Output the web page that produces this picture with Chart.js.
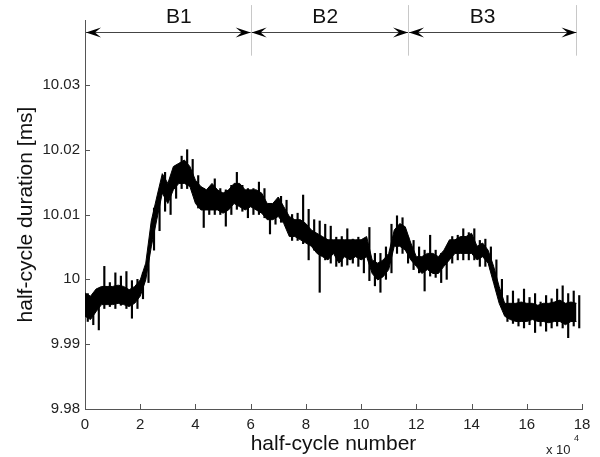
<!DOCTYPE html>
<html>
<head>
<meta charset="utf-8">
<script src="https://cdn.jsdelivr.net/npm/chart.js@4.4.0/dist/chart.umd.min.js"></script>
<style>
  body { margin: 0; background: #fff; }
  #wrap { width: 600px; height: 457px; }
</style>
</head>
<body>
<div id="wrap"><canvas id="myChart" width="600" height="457"></canvas></div>
<script>
// half-cycle number (x 10^4), one bin every 0.2
const binStart = [0,0.2,0.4,0.6,0.8,1,1.2,1.4,1.6,1.8,2,2.2,2.4,2.6,2.8,3,3.2,3.4,3.6,3.8,
  4,4.2,4.4,4.6,4.8,5,5.2,5.4,5.6,5.8,6,6.2,6.4,6.6,6.8,7,7.2,7.4,7.6,7.8,
  8,8.2,8.4,8.6,8.8,9,9.2,9.4,9.6,9.8,10,10.2,10.4,10.6,10.8,11,11.2,11.4,11.6,11.8,
  12,12.2,12.4,12.6,12.8,13,13.2,13.4,13.6,13.8,14,14.2,14.4,14.6,14.8,15,15.2,15.4,15.6,15.8,
  16,16.2,16.4,16.6,16.8,17,17.2,17.4,17.6,17.8];

// extreme spikes of the trace in each bin [ms]
const highVals = [9.9978,9.9975,9.9985,10.0020,9.9995,10.0010,10.0005,10.0012,9.9998,10.0000,
  10.0010,10.0040,10.0110,10.0135,10.0165,10.0145,10.0175,10.0190,10.0200,10.0185,
  10.0160,10.0140,10.0140,10.0155,10.0140,10.0138,10.0145,10.0165,10.0145,10.0140,
  10.0140,10.0150,10.0140,10.0105,10.0120,10.0128,10.0122,10.0100,10.0102,10.0130,
  10.0108,10.0092,10.0090,10.0085,10.0082,10.0065,10.0066,10.0078,10.0062,10.0065,
  10.0050,10.0080,10.0040,10.0040,10.0050,10.0085,10.0098,10.0095,10.0065,10.0060,
  10.0050,10.0045,10.0068,10.0045,10.0040,10.0042,10.0066,10.0068,10.0078,10.0072,
  10.0078,10.0060,10.0062,10.0050,10.0030,10.0000,9.9975,9.9982,9.9970,9.9985,
  9.9972,9.9978,9.9965,9.9975,9.9970,9.9985,9.9990,9.9978,9.9982,9.9975];
const lowVals = [9.9935,9.9930,9.9922,9.9955,9.9958,9.9955,9.9960,9.9955,9.9940,9.9955,
  9.9970,9.9995,10.0045,10.0075,10.0105,10.0100,10.0125,10.0140,10.0140,10.0135,
  10.0110,10.0080,10.0100,10.0100,10.0100,10.0082,10.0100,10.0108,10.0105,10.0095,
  10.0100,10.0100,10.0095,10.0070,10.0085,10.0088,10.0080,10.0060,10.0060,10.0055,
  10.0030,10.0045,9.9980,10.0030,10.0025,10.0020,10.0020,10.0022,10.0025,10.0020,
  10.0010,9.9998,9.9990,9.9980,10.0000,10.0010,10.0040,10.0040,10.0025,10.0015,
  10.0010,9.9982,10.0005,10.0003,9.9995,10.0000,10.0025,10.0030,10.0030,10.0030,
  10.0030,10.0020,10.0020,10.0015,9.9990,9.9958,9.9935,9.9932,9.9928,9.9925,
  9.9930,9.9918,9.9928,9.9920,9.9925,9.9928,9.9925,9.9910,9.9928,9.9925];

// dense core of the trace in each bin [ms]
const coreHigh = [9.9979,9.9974,9.9985,9.9989,9.9989,9.9989,9.9991,9.9989,9.9984,9.9989,
  9.9999,10.0025,10.0090,10.0127,10.0163,10.0148,10.0174,10.0179,10.0184,10.0174,
  10.0153,10.0143,10.0138,10.0148,10.0138,10.0133,10.0138,10.0148,10.0148,10.0138,
  10.0138,10.0138,10.0133,10.0117,10.0117,10.0127,10.0112,10.0097,10.0092,10.0092,
  10.0086,10.0076,10.0071,10.0066,10.0061,10.0061,10.0061,10.0061,10.0061,10.0061,
  10.0061,10.0066,10.0030,10.0025,10.0030,10.0040,10.0076,10.0086,10.0081,10.0056,
  10.0035,10.0035,10.0040,10.0040,10.0035,10.0045,10.0061,10.0061,10.0066,10.0066,
  10.0071,10.0051,10.0056,10.0045,10.0020,9.9989,9.9963,9.9963,9.9963,9.9965,
  9.9963,9.9963,9.9960,9.9963,9.9963,9.9965,9.9968,9.9963,9.9965,9.9963];
const coreLow = [9.9943,9.9938,9.9950,9.9961,9.9961,9.9961,9.9963,9.9961,9.9958,9.9963,
  9.9974,9.9999,10.0050,10.0092,10.0133,10.0117,10.0138,10.0148,10.0148,10.0143,
  10.0117,10.0107,10.0107,10.0107,10.0107,10.0102,10.0107,10.0117,10.0112,10.0107,
  10.0112,10.0107,10.0102,10.0092,10.0092,10.0097,10.0086,10.0066,10.0066,10.0061,
  10.0056,10.0051,10.0040,10.0035,10.0030,10.0040,10.0025,10.0035,10.0030,10.0035,
  10.0030,10.0035,10.0009,9.9999,10.0004,10.0015,10.0051,10.0051,10.0045,10.0030,
  10.0020,10.0009,10.0015,10.0009,10.0009,10.0020,10.0030,10.0040,10.0040,10.0040,
  10.0040,10.0030,10.0035,10.0025,9.9994,9.9963,9.9943,9.9938,9.9935,9.9935,
  9.9935,9.9938,9.9935,9.9935,9.9933,9.9935,9.9935,9.9930,9.9935,9.9935];

const xTicks = [0,2,4,6,8,10,12,14,16,18];
const yTicks = [9.98,9.99,10,10.01,10.02,10.03];

// block boundaries (x 10^4) and labels
const blockEdges = [0, 6, 11.7, 17.8];
const blockNames = ["B1", "B2", "B3"];
const blockLabelX = [3.4, 8.7, 14.4];

const FONT = "'Liberation Sans', Arial, Helvetica, sans-serif";

// spikes: one vertical stroke per bin, from its lowest to its highest sample
const spikes = binStart.map(function(x, i) { return {x: x + 0.1, y: [lowVals[i], highVals[i]]}; });
const coreTop = binStart.map(function(x, i) { return {x: x, y: coreHigh[i]}; });
const coreBot = binStart.map(function(x, i) { return {x: x, y: coreLow[i]}; });

function arrowHead(ctx, tipX, tipY, dir) {
  // dir = 1 points right, -1 points left
  const L = 15, W = 5;
  ctx.beginPath();
  ctx.moveTo(tipX, tipY);
  ctx.lineTo(tipX - dir * L, tipY - W);
  ctx.lineTo(tipX - dir * L * 0.6, tipY);
  ctx.lineTo(tipX - dir * L, tipY + W);
  ctx.closePath();
  ctx.fill();
}

const extras = {
  id: "extras",
  afterDraw(chart) {
    const ctx = chart.ctx;
    const x = chart.scales.x, y = chart.scales.y;
    ctx.save();

    // inward ticks
    ctx.strokeStyle = "#555";
    ctx.lineWidth = 1;
    ctx.beginPath();
    xTicks.forEach(function(v) {
      const px = Math.round(x.getPixelForValue(v)) + 0.5;
      ctx.moveTo(px, y.bottom);
      ctx.lineTo(px, y.bottom - 5);
    });
    yTicks.forEach(function(v) {
      const py = Math.round(y.getPixelForValue(v)) + 0.5;
      ctx.moveTo(x.left, py);
      ctx.lineTo(x.left + 5, py);
    });
    ctx.stroke();

    // block separators
    const lineTop = y.getPixelForValue(10.0423);
    const lineBot = y.getPixelForValue(10.0345);
    ctx.strokeStyle = "#c8c8c8";
    ctx.beginPath();
    blockEdges.slice(1).forEach(function(v) {
      const px = Math.round(x.getPixelForValue(v)) + 0.5;
      ctx.moveTo(px, lineTop);
      ctx.lineTo(px, lineBot);
    });
    ctx.stroke();

    // double arrows
    const ay = Math.round(y.getPixelForValue(10.0382)) + 0.5;
    ctx.strokeStyle = "#444";
    ctx.fillStyle = "#000";
    for (let i = 0; i < blockNames.length; i++) {
      const a = x.getPixelForValue(blockEdges[i]) + 1;
      const b = x.getPixelForValue(blockEdges[i + 1]);
      ctx.beginPath();
      ctx.moveTo(a, ay);
      ctx.lineTo(b, ay);
      ctx.stroke();
      arrowHead(ctx, a, ay, -1);
      arrowHead(ctx, b, ay, 1);
    }

    // block labels
    ctx.fillStyle = "#111";
    ctx.font = "21px " + FONT;
    ctx.textAlign = "center";
    ctx.textBaseline = "alphabetic";
    blockNames.forEach(function(name, i) {
      ctx.fillText(name, x.getPixelForValue(blockLabelX[i]), 23);
    });

    // exponent of the x axis
    ctx.fillStyle = "#222";
    ctx.textAlign = "left";
    ctx.font = "13px " + FONT;
    ctx.fillText("x 10", 546, 454);
    ctx.font = "9px " + FONT;
    ctx.fillText("4", 574, 441);

    ctx.restore();
  }
};

new Chart("myChart", {
  type: "line",
  data: {
    datasets: [{
      type: "bar",
      data: spikes,
      backgroundColor: "#000",
      barThickness: 1.5,
      grouped: false
    }, {
      data: coreTop,
      borderColor: "#000",
      backgroundColor: "#000",
      borderWidth: 1,
      pointRadius: 0,
      tension: 0,
      fill: "+1"
    }, {
      data: coreBot,
      borderColor: "#000",
      borderWidth: 1,
      pointRadius: 0,
      tension: 0,
      fill: false
    }]
  },
  options: {
    responsive: false,
    animation: false,
    layout: { padding: { left: 0, right: 18, top: 20, bottom: 0 } },
    plugins: {
      legend: { display: false },
      tooltip: { enabled: false }
    },
    scales: {
      x: {
        type: "linear",
        min: 0,
        max: 18,
        offset: false,
        afterBuildTicks: function(scale) {
          scale.ticks = xTicks.map(function(v) { return {value: v}; });
        },
        afterFit: function(scale) { scale.height = 48; },
        grid: { display: false, drawTicks: false },
        border: { display: true, color: "#555", width: 1 },
        ticks: {
          color: "#222",
          font: { family: FONT, size: 15 },
          padding: 7,
          maxRotation: 0,
          callback: function(v) { return String(v); }
        },
        title: {
          display: true,
          text: "half-cycle number",
          color: "#111",
          font: { family: FONT, size: 21 },
          padding: { top: 0, bottom: 0 }
        }
      },
      y: {
        type: "linear",
        min: 9.98,
        max: 10.04,
        afterBuildTicks: function(scale) {
          scale.ticks = yTicks.map(function(v) { return {value: v}; });
        },
        afterFit: function(scale) { scale.width = 85; },
        grid: { display: false, drawTicks: false },
        border: { display: true, color: "#555", width: 1 },
        ticks: {
          color: "#222",
          font: { family: FONT, size: 15 },
          padding: 5,
          callback: function(v) { return String(parseFloat(v.toFixed(2))); }
        },
        title: {
          display: true,
          text: "half-cycle duration [ms]",
          color: "#111",
          font: { family: FONT, size: 21 },
          padding: { top: 14, bottom: 0 }
        }
      }
    }
  },
  plugins: [extras]
});
</script>
</body>
</html>
